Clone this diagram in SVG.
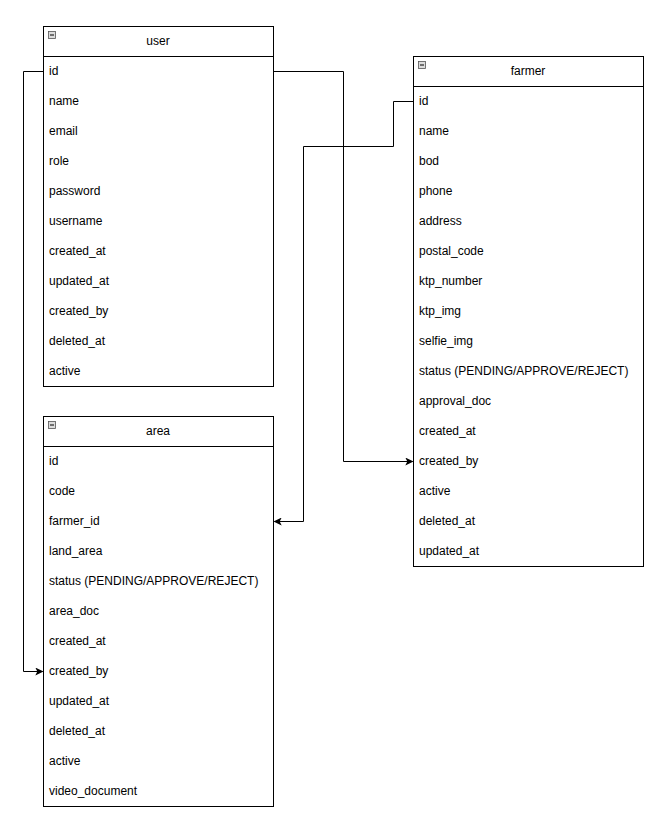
<svg xmlns="http://www.w3.org/2000/svg" width="657" height="821" viewBox="0 0 657 821">
<style>
.box{fill:#fff;stroke:#000;stroke-width:1}
.t{font-family:"Liberation Sans",Arial,sans-serif;font-size:12px;fill:#000}
.h{text-anchor:middle}
.ic{fill:#ddd;stroke:#555;stroke-width:0.8}
.c{fill:none;stroke:#000;stroke-width:1}
</style>
<defs>
<marker id="arr" viewBox="0 0 10 10" refX="9" refY="5" markerWidth="8" markerHeight="8" markerUnits="userSpaceOnUse" orient="auto">
<path d="M0,0 L10,5 L0,10 L2.5,5 Z" fill="#000"/>
</marker>
<g id="icon"><rect class="ic" x="0" y="0" width="7" height="7"/><line x1="1.5" y1="3.5" x2="5.5" y2="3.5" stroke="#000" stroke-width="1"/></g>
</defs>
<rect width="657" height="821" fill="#fff"/>
<g id="user">
<rect class="box" x="43.5" y="26.5" width="230" height="360"/>
<line class="c" x1="43.5" y1="56.5" x2="273.5" y2="56.5"/>
<use href="#icon" x="48.5" y="31.5"/>
<text class="t h" x="158" y="45">user</text>
<text class="t" x="49" y="75">id</text>
<text class="t" x="49" y="105">name</text>
<text class="t" x="49" y="135">email</text>
<text class="t" x="49" y="165">role</text>
<text class="t" x="49" y="195">password</text>
<text class="t" x="49" y="225">username</text>
<text class="t" x="49" y="255">created_at</text>
<text class="t" x="49" y="285">updated_at</text>
<text class="t" x="49" y="315">created_by</text>
<text class="t" x="49" y="345">deleted_at</text>
<text class="t" x="49" y="375">active</text>
</g>
<g id="farmer">
<rect class="box" x="413.5" y="56.5" width="230" height="510"/>
<line class="c" x1="413.5" y1="86.5" x2="643.5" y2="86.5"/>
<use href="#icon" x="418.5" y="61.5"/>
<text class="t h" x="528" y="75">farmer</text>
<text class="t" x="419" y="105">id</text>
<text class="t" x="419" y="135">name</text>
<text class="t" x="419" y="165">bod</text>
<text class="t" x="419" y="195">phone</text>
<text class="t" x="419" y="225">address</text>
<text class="t" x="419" y="255">postal_code</text>
<text class="t" x="419" y="285">ktp_number</text>
<text class="t" x="419" y="315">ktp_img</text>
<text class="t" x="419" y="345">selfie_img</text>
<text class="t" x="419" y="375">status (PENDING/APPROVE/REJECT)</text>
<text class="t" x="419" y="405">approval_doc</text>
<text class="t" x="419" y="435">created_at</text>
<text class="t" x="419" y="465">created_by</text>
<text class="t" x="419" y="495">active</text>
<text class="t" x="419" y="525">deleted_at</text>
<text class="t" x="419" y="555">updated_at</text>
</g>
<g id="area">
<rect class="box" x="43.5" y="416.5" width="230" height="390"/>
<line class="c" x1="43.5" y1="446.5" x2="273.5" y2="446.5"/>
<use href="#icon" x="48.5" y="421.5"/>
<text class="t h" x="158" y="435">area</text>
<text class="t" x="49" y="465">id</text>
<text class="t" x="49" y="495">code</text>
<text class="t" x="49" y="525">farmer_id</text>
<text class="t" x="49" y="555">land_area</text>
<text class="t" x="49" y="585">status (PENDING/APPROVE/REJECT)</text>
<text class="t" x="49" y="615">area_doc</text>
<text class="t" x="49" y="645">created_at</text>
<text class="t" x="49" y="675">created_by</text>
<text class="t" x="49" y="705">updated_at</text>
<text class="t" x="49" y="735">deleted_at</text>
<text class="t" x="49" y="765">active</text>
<text class="t" x="49" y="795">video_document</text>
</g>
<g id="connectors">
<path class="c" d="M273.5,71.5 H343.5 V461.5 H412.5" marker-end="url(#arr)"/>
<path class="c" d="M413.5,101.5 H393.5 V146.5 H303.5 V521.5 H274.5" marker-end="url(#arr)"/>
<path class="c" d="M43.5,71.5 H23.5 V671.5 H42.5" marker-end="url(#arr)"/>
</g>
</svg>
